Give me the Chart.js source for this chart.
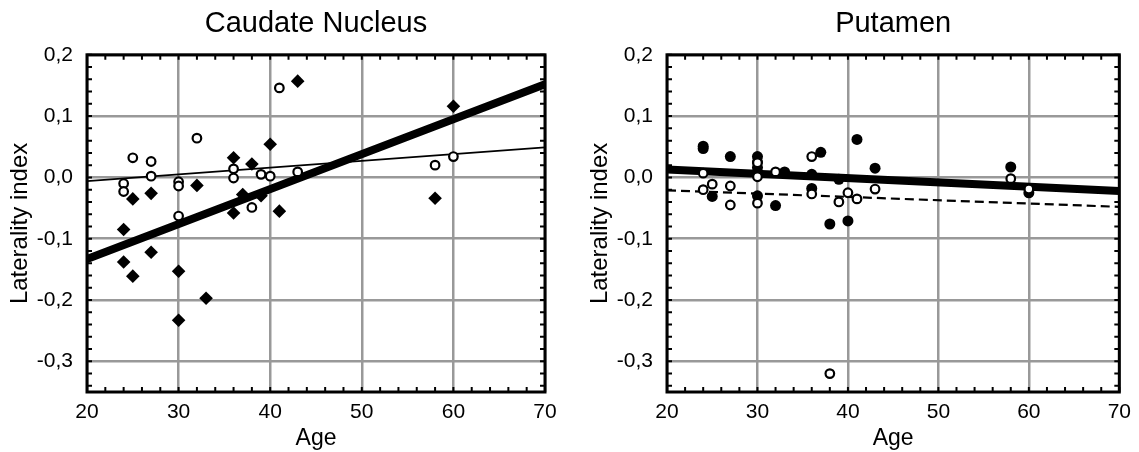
<!DOCTYPE html>
<html lang="en">
<head>
<meta charset="UTF-8">
<title>Laterality index vs Age</title>
<script src="https://cdn.jsdelivr.net/npm/chart.js"></script>
<style>
    body { margin: 0; background: #fff; }
    #graficoCaudado { position: absolute; left: 0; top: 0; }
    #graficoPutamen { position: absolute; left: 580px; top: 0; }
</style>
</head>
<body>

<canvas id="graficoCaudado" width="570" height="452"></canvas>
<canvas id="graficoPutamen" width="559" height="452"></canvas>

<script>
    // eixos
    const xTicks = [20, 30, 40, 50, 60, 70];
    const yTicks = [-0.3, -0.2, -0.1, 0.0, 0.1, 0.2];

    // Caudate Nucleus - losangos cheios
    const caudDiamAge = [24, 24, 25, 25, 27, 27, 30, 30, 32, 33, 36, 36, 37, 38, 39, 40, 41, 43, 58, 60];
    const caudDiamLI = [-0.085, -0.138, -0.035, -0.161, -0.026, -0.122, -0.153, -0.233, -0.013, -0.197,
        0.032, -0.058, -0.028, 0.022, -0.030, 0.054, -0.055, 0.157, -0.034, 0.116];

    // Caudate Nucleus - circulos abertos
    const caudCircAge = [24, 24, 25, 27, 27, 30, 30, 30, 32, 36, 36, 38, 39, 40, 41, 43, 58, 60];
    const caudCircLI = [-0.010, -0.023, 0.032, 0.026, 0.002, -0.007, -0.014, -0.063, 0.064, 0.014,
        -0.001, -0.049, 0.005, 0.002, 0.146, 0.009, 0.020, 0.034];

    // Caudate Nucleus - retas de regressao
    const fitAge = [20, 70];
    const caudFitThick = [-0.133, 0.152];
    const caudFitThin = [-0.006, 0.049];

    // Putamen - circulos cheios
    const putFillAge = [24, 24, 25, 27, 30, 30, 30, 30, 32, 33, 36, 36, 37, 38, 39, 40, 41, 43, 58, 60];
    const putFillLI = [0.051, 0.047, -0.031, 0.034, 0.034, 0.025, 0.016, -0.030, -0.046, 0.009,
        0.005, -0.018, 0.041, -0.076, -0.003, -0.071, 0.062, 0.015, 0.017, -0.025];

    // Putamen - circulos abertos
    const putOpenAge = [24, 24, 25, 27, 27, 30, 30, 30, 32, 36, 36, 38, 39, 40, 41, 43, 58, 60];
    const putOpenLI = [0.007, -0.020, -0.011, -0.014, -0.045, 0.024, 0.001, -0.042, 0.009, 0.034,
        -0.027, -0.320, -0.040, -0.025, -0.035, -0.019, -0.002, -0.019];

    // Putamen - retas
    const putFitThick = [0.013, -0.022];
    const putFitDashed = [-0.021, -0.048];

    Chart.defaults.font.family = '"Liberation Sans", Arial, sans-serif';
    Chart.defaults.color = '#000';

    function pontos(xs, ys) {
        return xs.map((v, i) => ({ x: v, y: ys[i] }));
    }

    // moldura preta e tracinhos menores para dentro
    const molduraPlugin = {
        id: 'moldura',
        afterDatasetsDraw(chart) {
            const { ctx, chartArea: a, scales: { x, y } } = chart;
            ctx.save();
            ctx.strokeStyle = '#000';
            ctx.lineWidth = 2;
            ctx.beginPath();
            for (let k = Math.ceil(x.min / 2); k * 2 <= x.max; k++) {
                const px = x.getPixelForValue(k * 2);
                ctx.moveTo(px, a.bottom); ctx.lineTo(px, a.bottom - 5);
                ctx.moveTo(px, a.top); ctx.lineTo(px, a.top + 5);
            }
            for (let k = Math.ceil(y.min / 0.02 - 1e-6); k * 0.02 <= y.max + 1e-9; k++) {
                const py = y.getPixelForValue(k * 0.02);
                ctx.moveTo(a.left, py); ctx.lineTo(a.left + 5, py);
                ctx.moveTo(a.right, py); ctx.lineTo(a.right - 5, py);
            }
            ctx.stroke();
            ctx.lineWidth = 3;
            ctx.strokeRect(a.left, a.top, a.right - a.left, a.bottom - a.top);
            ctx.restore();
        }
    };

    function montarGrafico(canvasId, titulo, datasets, padDireita) {
        return new Chart(document.getElementById(canvasId), {
            type: 'scatter',
            data: { datasets: datasets },
            options: {
                responsive: false,
                animation: false,
                layout: { padding: { left: 0, right: padDireita, top: 0, bottom: 0 } },
                plugins: {
                    legend: { display: false },
                    tooltip: { enabled: false },
                    title: {
                        display: true,
                        text: titulo,
                        fullSize: false,
                        color: '#000',
                        font: { size: 29, weight: 'normal' },
                        padding: { top: 7, bottom: 13 }
                    }
                },
                scales: {
                    x: {
                        type: 'linear',
                        min: 20,
                        max: 70,
                        afterBuildTicks: s => { s.ticks = xTicks.map(v => ({ value: v })); },
                        afterFit: s => { s.height = 60; },
                        border: { display: false },
                        grid: { color: '#999', lineWidth: 2.5, drawTicks: false, borderDash: [1.5, 1] },
                        ticks: { font: { size: 21 }, padding: 8, maxRotation: 0 },
                        title: { display: true, text: 'Age', font: { size: 23 }, padding: { top: 0, bottom: 0 } }
                    },
                    y: {
                        type: 'linear',
                        min: -0.35,
                        max: 0.2,
                        afterBuildTicks: s => { s.ticks = yTicks.map(v => ({ value: v })); },
                        afterFit: s => { s.width = 87; },
                        border: { display: false },
                        grid: { color: '#999', lineWidth: 2.5, drawTicks: false, borderDash: [1.5, 1] },
                        ticks: {
                            font: { size: 21 },
                            padding: 14,
                            callback: v => v.toFixed(1).replace('.', ',')
                        },
                        title: { display: true, text: 'Laterality index', font: { size: 24 }, padding: { top: 6, bottom: 0 } }
                    }
                }
            },
            plugins: [molduraPlugin]
        });
    }

    montarGrafico('graficoCaudado', 'Caudate Nucleus', [
        {
            data: pontos(caudCircAge, caudCircLI),
            pointStyle: 'circle', pointRadius: 4.3, pointBorderWidth: 2.2,
            pointBackgroundColor: '#fff', pointBorderColor: '#000'
        },
        {
            data: pontos(caudDiamAge, caudDiamLI),
            pointStyle: 'rectRot', pointRadius: 6.8, pointBorderWidth: 0,
            pointBackgroundColor: '#000', pointBorderColor: '#000'
        },
        {
            data: pontos(fitAge, caudFitThin),
            showLine: true, pointRadius: 0, borderColor: '#000', borderWidth: 1.8
        },
        {
            data: pontos(fitAge, caudFitThick),
            showLine: true, pointRadius: 0, borderColor: '#000', borderWidth: 8, borderCapStyle: 'round'
        }
    ], 25);

    montarGrafico('graficoPutamen', 'Putamen', [
        {
            data: pontos(putOpenAge, putOpenLI),
            pointStyle: 'circle', pointRadius: 4.3, pointBorderWidth: 2.2,
            pointBackgroundColor: '#fff', pointBorderColor: '#000'
        },
        {
            data: pontos(putFillAge, putFillLI),
            pointStyle: 'circle', pointRadius: 5.5, pointBorderWidth: 0,
            pointBackgroundColor: '#000', pointBorderColor: '#000'
        },
        {
            data: pontos(fitAge, putFitDashed),
            showLine: true, pointRadius: 0, borderColor: '#000', borderWidth: 2.2, borderDash: [9, 5]
        },
        {
            data: pontos(fitAge, putFitThick),
            showLine: true, pointRadius: 0, borderColor: '#000', borderWidth: 8, borderCapStyle: 'round'
        }
    ], 14);
</script>
</body>
</html>
